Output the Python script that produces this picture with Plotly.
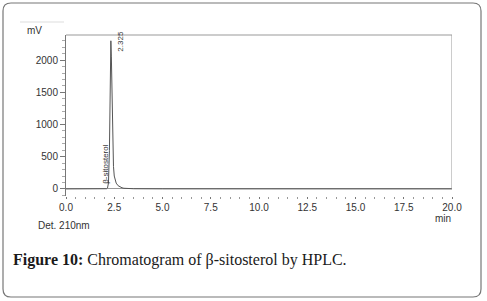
import plotly.graph_objects as go

# Chromatogram data (time in min, signal in mV)
time_min = [0.0, 1.0, 2.0, 2.1, 2.15, 2.2, 2.25, 2.28, 2.3, 2.325, 2.35, 2.38, 2.42, 2.46, 2.5, 2.55, 2.6, 2.7, 2.8, 2.9, 3.0, 3.5, 5.0, 10.0, 15.0, 20.0]
signal_mv = [0, 0, 0, 3, 15, 90, 600, 1500, 2100, 2300, 2050, 1400, 700, 350, 200, 130, 90, 50, 30, 18, 10, 3, 1, 0, 0, 0]

peak_time = 2.325
peak_height = 2300
peak_label = "2.325"
compound_label = "β-sitosterol"

x_ticks = [0.0, 2.5, 5.0, 7.5, 10.0, 12.5, 15.0, 17.5, 20.0]
y_ticks = [0, 500, 1000, 1500, 2000]

W, H = 487, 301
L, R, T, B = 66, 35, 35, 105
PW, PH = W - L - R, H - T - B

def px(x):
    return (x - L) / PW

def py(y):
    return (H - B - y) / PH

fig = go.Figure()
fig.add_trace(go.Scatter(x=time_min, y=signal_mv, mode="lines",
                         line=dict(color="#555555", width=1), hoverinfo="skip"))

axis_font = dict(family="Liberation Sans, Arial", size=10, color="#333333")

fig.update_layout(
    width=W, height=H,
    margin=dict(l=L, r=R, t=T, b=B),
    paper_bgcolor="white", plot_bgcolor="white",
    showlegend=False,
    xaxis=dict(range=[0, 20], tickvals=x_ticks, ticktext=[f"{v:.1f}" for v in x_ticks],
               showgrid=False, zeroline=False, showline=False,
               ticks="outside", ticklen=2, tickcolor="#777777", tickwidth=1,
               minor=dict(dtick=0.5, ticks="outside", ticklen=2, tickcolor="#999999"),
               tickfont=axis_font),
    yaxis=dict(range=[-110, 2390], tickvals=y_ticks,
               showgrid=False, zeroline=True, zerolinecolor="#999999", zerolinewidth=1,
               showline=True, linecolor="#777777", linewidth=1,
               ticks="outside", ticklen=5, tickcolor="#777777",
               minor=dict(dtick=100, ticks="outside", ticklen=3, tickcolor="#aaaaaa"),
               tickfont=axis_font),
)

# Top and right frame lines
fig.add_shape(type="line", xref="paper", yref="paper", x0=0, x1=1, y0=1, y1=1,
              line=dict(color="#999999", width=1))
fig.add_shape(type="line", xref="x", yref="y", x0=20, x1=20, y0=0, y1=2390,
              line=dict(color="#999999", width=1))

# Card border (rounded)
x0, x1, y0, y1, r = px(3), px(481), py(3), py(297), 8
rx, ry = r / PW, r / PH
path = (f"M {x0+rx},{y0} L {x1-rx},{y0} Q {x1},{y0} {x1},{y0-ry} "
        f"L {x1},{y1+ry} Q {x1},{y1} {x1-rx},{y1} L {x0+rx},{y1} "
        f"Q {x0},{y1} {x0},{y1+ry} L {x0},{y0-ry} Q {x0},{y0} {x0+rx},{y0} Z")
fig.add_shape(type="path", xref="paper", yref="paper", path=path,
              line=dict(color="#777777", width=1.2))
# faint separator near mV
fig.add_shape(type="line", xref="paper", yref="paper", x0=px(20), x1=px(64), y0=py(22), y1=py(22),
              line=dict(color="#dddddd", width=1))

small = dict(family="Liberation Sans, Arial", size=10, color="#333333")
fig.add_annotation(xref="paper", yref="paper", x=px(25), y=py(30), text="mV",
                   showarrow=False, xanchor="left", yanchor="middle", font=small)
fig.add_annotation(xref="paper", yref="paper", x=px(453), y=py(218), text="min",
                   showarrow=False, xanchor="right", yanchor="middle", font=small)
fig.add_annotation(xref="paper", yref="paper", x=px(36), y=py(226), text="Det. 210nm",
                   showarrow=False, xanchor="left", yanchor="middle", font=small)

# Peak labels
fig.add_annotation(x=peak_time, y=peak_height, xref="x", yref="y", text=peak_label,
                   showarrow=False, textangle=-90, xanchor="left", yanchor="top",
                   xshift=3, yshift=12, font=dict(family="Liberation Sans, Arial", size=8, color="#333333"))
fig.add_annotation(x=peak_time, y=0, xref="x", yref="y", text=compound_label,
                   showarrow=False, textangle=-90, xanchor="center", yanchor="bottom",
                   xshift=-5, yshift=3, font=dict(family="Liberation Sans, Arial", size=8, color="#333333"))

# Caption
fig.add_annotation(xref="paper", yref="paper", x=px(11), y=py(260),
                   text="<b>Figure 10:</b> Chromatogram of β-sitosterol by HPLC.",
                   showarrow=False, xanchor="left", yanchor="middle",
                   font=dict(family="Liberation Serif, Times New Roman", size=16, color="#1a1a1a"))

fig.write_html("out.html")
